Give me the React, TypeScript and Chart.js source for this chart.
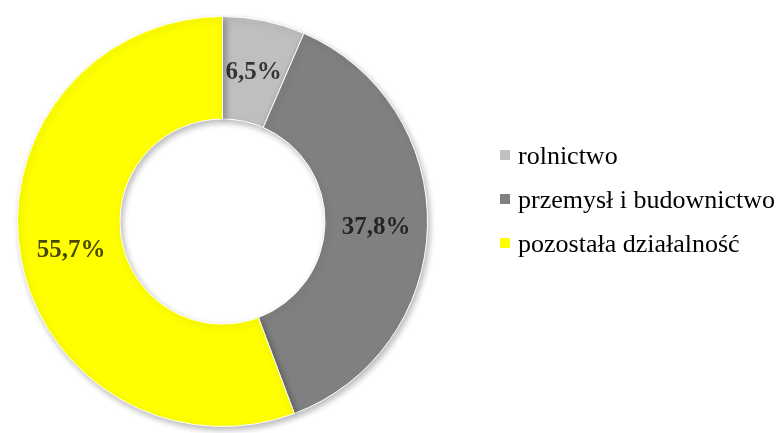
import React, { useEffect, useRef } from "react";
import { Chart, registerables } from "chart.js";

Chart.register(...registerables);

const categories = ["rolnictwo", "przemysł i budownictwo", "pozostała działalność"];
const shares = [6.5, 37.8, 55.7];
const valueLabels = ["6,5%", "37,8%", "55,7%"];
const sliceColors = ["#BFBFBF", "#808080", "#FFFF00"];

const sliceLabelPlugin = {
  id: "sliceLabels",
  afterDatasetsDraw(chart: any) {
    const ctx = chart.ctx;
    const meta = chart.getDatasetMeta(0);
    ctx.save();
    ctx.font = 'bold 25px "Liberation Serif", "Times New Roman", serif';
    ctx.fillStyle = "rgba(0,0,0,0.72)";
    ctx.textAlign = "center";
    ctx.textBaseline = "middle";
    meta.data.forEach((arc: any, i: number) => {
      const p = arc.getCenterPoint();
      ctx.fillText(valueLabels[i], p.x, p.y + 2);
    });
    ctx.restore();
  },
};

const legendPlugin = {
  id: "sideLegend",
  afterDraw(chart: any) {
    const ctx = chart.ctx;
    const labels = chart.data.labels as string[];
    const colors = chart.data.datasets[0].backgroundColor as string[];
    ctx.save();
    ctx.font = '26px "Liberation Serif", "Times New Roman", serif';
    ctx.textAlign = "left";
    ctx.textBaseline = "alphabetic";
    labels.forEach((lab, i) => {
      const baseline = 164 + i * 44;
      ctx.fillStyle = colors[i];
      ctx.fillRect(500, baseline - 14, 10, 10);
      ctx.fillStyle = "#000000";
      ctx.fillText(lab, 518, baseline);
    });
    ctx.restore();
  },
};

const shadowPlugin = {
  id: "ringShadow",
  beforeDatasetsDraw(chart: any) {
    const ctx = chart.ctx;
    ctx.save();
    ctx.shadowColor = "rgba(0,0,0,0.28)";
    ctx.shadowBlur = 6;
    ctx.shadowOffsetX = 2;
    ctx.shadowOffsetY = 3;
  },
  afterDatasetsDraw(chart: any) {
    const ctx = chart.ctx;
    ctx.restore();
    const arc: any = chart.getDatasetMeta(0).data[0];
    if (!arc) return;
    const { x, y, innerRadius } = arc.getProps(["x", "y", "innerRadius"], true);
    ctx.save();
    ctx.beginPath();
    ctx.arc(x, y, innerRadius, 0, Math.PI * 2);
    ctx.clip();
    ctx.beginPath();
    ctx.arc(x, y, innerRadius + 6, 0, Math.PI * 2);
    ctx.lineWidth = 8;
    ctx.strokeStyle = "rgba(0,0,0,0.01)";
    ctx.shadowColor = "rgba(0,0,0,0.25)";
    ctx.shadowBlur = 6;
    ctx.stroke();
    ctx.restore();
  },
};

export default function App() {
  const ref = useRef<HTMLCanvasElement | null>(null);

  useEffect(() => {
    if (!ref.current) return;
    const chart = new Chart(ref.current, {
      type: "doughnut",
      data: {
        labels: categories,
        datasets: [
          {
            data: shares,
            backgroundColor: sliceColors,
            borderColor: "#FFFFFF",
            borderWidth: 1,
            hoverOffset: 0,
          },
        ],
      },
      options: {
        responsive: false,
        animation: false,
        cutout: "50%",
        layout: { padding: { left: 17, top: 16, right: 354, bottom: 6 } },
        plugins: {
          legend: { display: false },
          tooltip: { enabled: false },
        },
      },
      plugins: [shadowPlugin, sliceLabelPlugin, legendPlugin],
    });
    return () => chart.destroy();
  }, []);

  return (
    <div style={{ position: "fixed", left: 0, top: 0, width: 782, height: 433, background: "#FFFFFF" }}>
      <canvas ref={ref} width={782} height={433} style={{ display: "block" }} />
    </div>
  );
}
